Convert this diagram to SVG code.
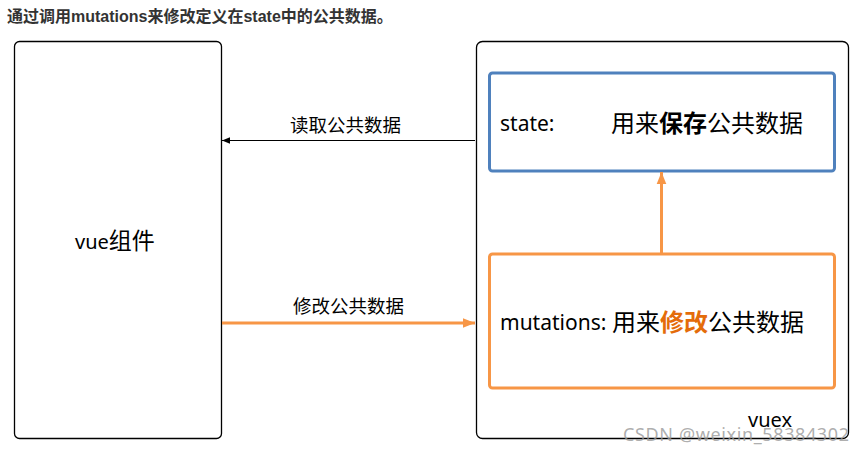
<svg xmlns="http://www.w3.org/2000/svg" width="861" height="457" viewBox="0 0 861 457">
<style>
.t{font-family:"Noto Sans","Noto Sans CJK SC",sans-serif;fill:#000}
.c{font-family:"Noto Sans CJK SC",sans-serif;fill:#000}
.box{fill:#fff;stroke:#000;stroke-width:1.3}
</style>
<defs>
<marker id="ab" viewBox="0 0 10 10" refX="10" refY="5" markerWidth="8" markerHeight="8" markerUnits="userSpaceOnUse" orient="auto"><path d="M0,1 L10,5 L0,9 z" fill="#000"/></marker>
<marker id="ao" viewBox="0 0 10 10" refX="10" refY="5" markerWidth="12" markerHeight="12" markerUnits="userSpaceOnUse" orient="auto"><path d="M0,1 L10,5 L0,9 z" fill="#f79646"/></marker>
</defs>
<rect width="861" height="457" fill="#fff"/>
<text x="7" y="22" style="font-family:'Liberation Sans','Noto Sans CJK SC',sans-serif;font-weight:bold;font-size:16px;fill:#333">通过调用mutations来修改定义在state中的公共数据。</text>
<g id="vue">
<rect class="box" x="14.5" y="41.5" width="207" height="397" rx="5"/>
<text class="t" x="75" y="249" style="font-size:20px">vue<tspan class="c" style="font-size:23px">组件</tspan></text>
</g>
<g id="vuex">
<rect class="box" x="476.5" y="41.5" width="372" height="397" rx="6"/>
<text class="t" x="748" y="427" style="font-size:20px">vuex</text>
</g>
<g id="state">
<rect x="489.5" y="73" width="345" height="98" rx="3" fill="#fff" stroke="#4f81bd" stroke-width="3"/>
<text class="t" x="500" y="131" style="font-size:21px">state:</text>
<text class="c" x="611" y="132" style="font-size:24px">用来<tspan style="font-weight:bold">保存</tspan>公共数据</text>
</g>
<g id="mutations">
<rect x="489.5" y="254" width="345" height="134" rx="3" fill="#fff" stroke="#f79646" stroke-width="3"/>
<text class="t" x="500" y="330" style="font-size:21px">mutations:</text>
<text class="c" x="612" y="331" style="font-size:24px">用来<tspan style="font-weight:bold;fill:#e46c0a">修改</tspan>公共数据</text>
</g>
<g id="connectors">
<line x1="475" y1="140.5" x2="222" y2="140.5" stroke="#000" stroke-width="1.2" marker-end="url(#ab)"/>
<line x1="222" y1="323" x2="475" y2="323" stroke="#f79646" stroke-width="3" marker-end="url(#ao)"/>
<line x1="661.5" y1="253" x2="661.5" y2="172" stroke="#f79646" stroke-width="3" marker-end="url(#ao)"/>
<text class="c" x="290" y="132" style="font-size:18.5px">读取公共数据</text>
<text class="c" x="293" y="313" style="font-size:18.5px">修改公共数据</text>
</g>
<text x="623" y="441" textLength="226" style="font-family:'Noto Sans',sans-serif;font-size:18px;fill:#999;fill-opacity:0.8">CSDN @weixin_58384302</text>
</svg>
